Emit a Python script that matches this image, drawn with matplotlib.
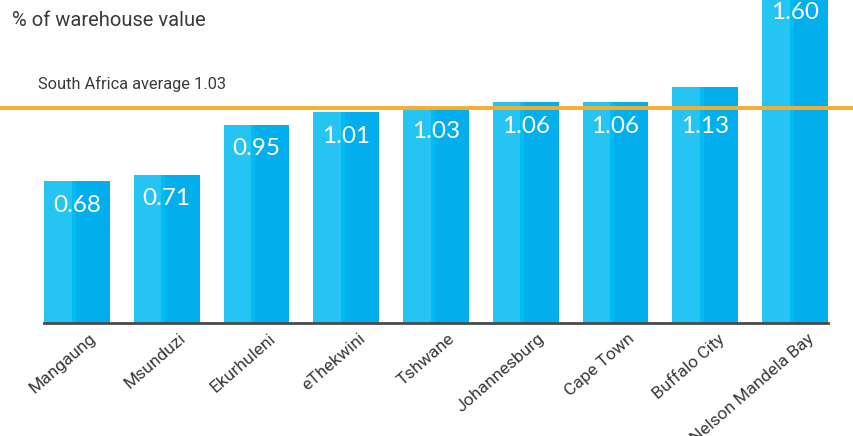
import matplotlib
matplotlib.use("Agg")
import matplotlib.pyplot as plt
import matplotlib.transforms as mtransforms

cities = ["Mangaung", "Msunduzi", "Ekurhuleni", "eThekwini", "Tshwane",
          "Johannesburg", "Cape Town", "Buffalo City", "Nelson Mandela Bay"]
values = [0.68, 0.71, 0.95, 1.01, 1.03, 1.06, 1.06, 1.13, 1.60]
average = 1.03
avg_label = "South Africa average 1.03"
unit_label = "% of warehouse value"

light = "#25c4f2"
dark = "#02aeec"
mid = "#00bcf0"
orange = "#f7ae2e"
grey = "#3a3a3a"

fig = plt.figure(figsize=(8.54, 4.36), dpi=100)
ax = fig.add_axes([44 / 854, 113 / 436, 784 / 854, 323 / 436])

w = 0.735
split = 0.42
x = list(range(len(values)))
# two-tone bars: lighter left part, darker right part
ax.bar([i - w / 2 for i in x], values, width=w * split, align="edge", color=light, linewidth=0)
ax.bar([i - w / 2 + w * split for i in x], values, width=w * 0.06, align="edge", color=mid, linewidth=0)
ax.bar([i - w / 2 + w * (split + 0.06) for i in x], values, width=w * (1 - split - 0.06),
       align="edge", color=dark, linewidth=0)

ax.set_xlim(-w / 2, len(values) - 1 + w / 2)
ax.set_ylim(0, 323 / 208.8)

# average line across whole figure
ax.axhline(average, xmin=-44 / 784, xmax=(854 - 44) / 784, color=orange, lw=2.8,
           clip_on=False, zorder=3)
fig.text(38 / 854, 1 - 84 / 436, avg_label, fontsize=11.8, family="Roboto",
         color=grey, va="center", ha="left")
fig.text(12 / 854, 1 - 20 / 436, unit_label, fontsize=14.5, family="Roboto",
         color=grey, va="center", ha="left")

for i, v in enumerate(values):
    ly = v - 0.115
    if abs(v - average) < 0.12:
        ly = min(ly, average - 0.09)
    ax.text(i, ly, f"{v:.2f}", color="white", fontsize=17.5, family="Lato",
            ha="center", va="center", zorder=4)

for s in ["top", "right", "left"]:
    ax.spines[s].set_visible(False)
ax.spines["bottom"].set_color("#4a4a4a")
ax.spines["bottom"].set_linewidth(2)
ax.set_yticks([])
ax.set_xticks(x)
ax.tick_params(axis="x", length=0, pad=2)
ax.set_xticklabels(cities, rotation=41, ha="right", va="top", rotation_mode="anchor",
                   fontsize=12.5, family="Roboto", color=grey)
offset = mtransforms.ScaledTranslation(12 / 100, -5 / 100, fig.dpi_scale_trans)
for lab in ax.get_xticklabels():
    lab.set_transform(lab.get_transform() + offset)

fig.savefig("out.png", dpi=100)
